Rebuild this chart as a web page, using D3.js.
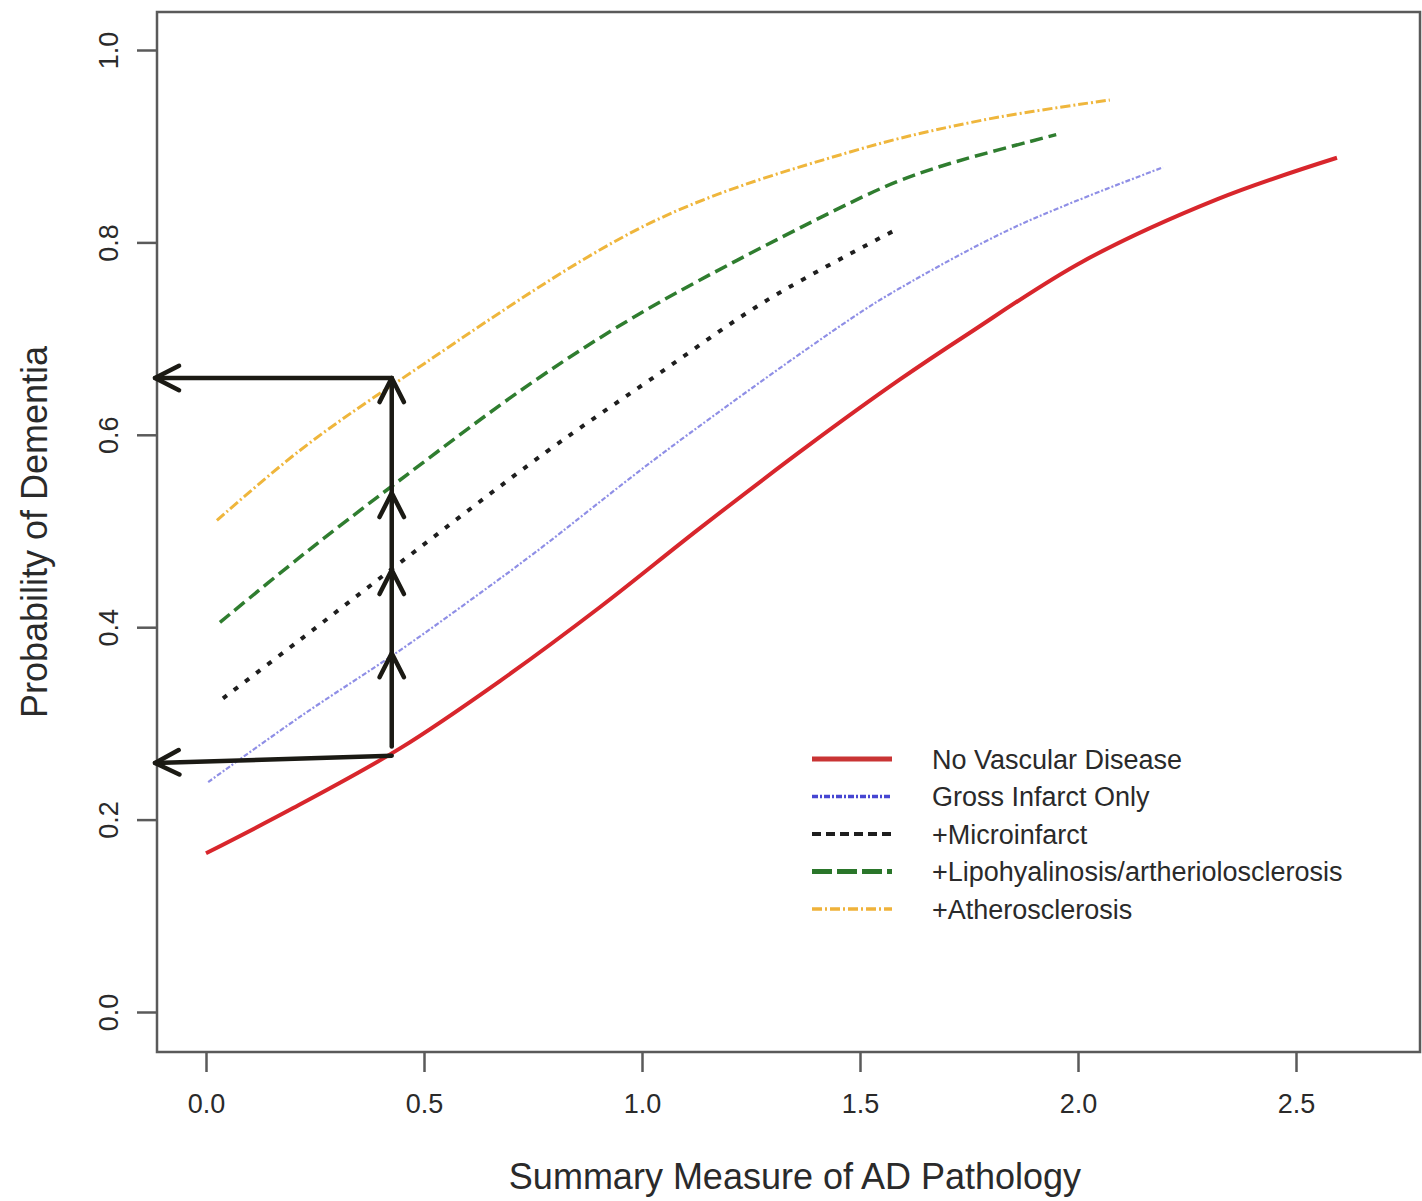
<!DOCTYPE html>
<html>
<head>
<meta charset="utf-8">
<script src="https://cdn.jsdelivr.net/npm/d3@7"></script>
<style>
  html, body { margin: 0; padding: 0; background: #fff; }
  svg { display: block; }
  text { font-family: "Liberation Sans", Arial, sans-serif; fill: #2a2a2a; }
</style>
</head>
<body>
<svg id="chart" width="1422" height="1201"></svg>
<script>
// ---------------- data ----------------
const seriesNames = ["No Vascular Disease", "Gross Infarct Only", "+Microinfarct",
  "+Lipohyalinosis/artheriolosclerosis", "+Atherosclerosis"];

const noVascX = [0, 0.2, 0.445, 0.674, 0.904, 1.133, 1.385, 1.59, 1.745, 2.01, 2.32, 2.594];
const noVascY = [0.165, 0.212, 0.274, 0.344, 0.421, 0.503, 0.590, 0.657, 0.704, 0.780, 0.845, 0.888];

const grossX = [0.005, 0.216, 0.445, 0.60, 0.75, 1.057, 1.477, 1.59, 1.86, 2.195];
const grossY = [0.239, 0.307, 0.376, 0.426, 0.476, 0.584, 0.720, 0.752, 0.817, 0.878];

const microX = [0.039, 0.216, 0.445, 0.78, 1.018, 1.287, 1.59];
const microY = [0.326, 0.387, 0.467, 0.582, 0.657, 0.740, 0.815];

const lipoX = [0.032, 0.216, 0.445, 0.75, 1.018, 1.477, 1.59, 1.706, 1.95];
const lipoY = [0.405, 0.473, 0.553, 0.655, 0.732, 0.841, 0.864, 0.882, 0.912];

const atheroX = [0.025, 0.216, 0.445, 1.018, 1.477, 1.78, 2.073];
const atheroY = [0.511, 0.584, 0.657, 0.820, 0.894, 0.927, 0.948];

const xTicks = [0.0, 0.5, 1.0, 1.5, 2.0, 2.5];
const yTicks = [0.0, 0.2, 0.4, 0.6, 0.8, 1.0];

// annotation arrows (data units)
const arrowX = 0.426;
const vertBottomY = 0.276;
const vertHeadsY = [0.373, 0.4595, 0.5395, 0.659];
const horizTop = { x0: 0.426, y0: 0.659, x1: -0.117, y1: 0.659 };
const horizBottom = { x0: 0.426, y0: 0.2664, x1: -0.117, y1: 0.2588 };

const xTitle = "Summary Measure of AD Pathology";
const yTitle = "Probability of Dementia";

// ---------------- styles ----------------
const styles = [
  { color: "#d8262c", width: 4, dash: null, legendColor: "#c93434", legendWidth: 5, legendDash: null },
  { color: "#8f8fe6", width: 2.2, dash: "5,2,2,2", legendColor: "#4646d2", legendWidth: 3.5, legendDash: "6,2,2,2" },
  { color: "#1e1e1e", width: 4, dash: "5,9", legendColor: "#1e1e1e", legendWidth: 4, legendDash: "9,5" },
  { color: "#2f7d2f", width: 3.5, dash: "13,6", legendColor: "#2a762a", legendWidth: 5, legendDash: "20,5" },
  { color: "#efb63c", width: 3, dash: "10,3,2,3", legendColor: "#efb23a", legendWidth: 3.5, legendDash: "10,3,2,3" }
];

// ---------------- scales ----------------
const svg = d3.select("#chart");
const x = d3.scaleLinear().domain([0, 2.5]).range([206, 1296]);
const y = d3.scaleLinear().domain([0, 1]).range([1012, 50]);

const box = { left: 157, right: 1420, top: 12, bottom: 1052 };
const axisColor = "#5a5a5a";

// plot box
svg.append("rect")
  .attr("x", box.left).attr("y", box.top)
  .attr("width", box.right - box.left).attr("height", box.bottom - box.top)
  .attr("fill", "none").attr("stroke", axisColor).attr("stroke-width", 2.5);

// x axis ticks
const gx = svg.append("g").attr("transform", `translate(0,${box.bottom})`)
  .call(d3.axisBottom(x).tickValues(xTicks).tickFormat(d3.format(".1f")).tickSize(20).tickPadding(22));
gx.select(".domain").remove();
gx.selectAll(".tick line").attr("stroke", axisColor).attr("stroke-width", 2.5);
gx.selectAll(".tick text").attr("font-size", 27).attr("fill", "#2a2a2a")
  .style("font-family", "'Liberation Sans', Arial, sans-serif");

// y axis ticks
const gy = svg.append("g").attr("transform", `translate(${box.left},0)`)
  .call(d3.axisLeft(y).tickValues(yTicks).tickFormat(d3.format(".1f")).tickSize(20).tickPadding(0));
gy.select(".domain").remove();
gy.selectAll(".tick line").attr("stroke", axisColor).attr("stroke-width", 2.5);
gy.selectAll(".tick text")
  .attr("font-size", 27).attr("fill", "#2a2a2a")
  .attr("text-anchor", "middle")
  .attr("x", null).attr("dy", null)
  .attr("transform", "translate(-39,0) rotate(-90)")
  .style("font-family", "'Liberation Sans', Arial, sans-serif");

// axis titles
svg.append("text").attr("x", 795).attr("y", 1189)
  .attr("text-anchor", "middle").attr("font-size", 36).text(xTitle);
svg.append("text")
  .attr("transform", `translate(47,${532}) rotate(-90)`)
  .attr("text-anchor", "middle").attr("font-size", 36).text(yTitle);

// curves
const seriesData = [
  d3.zip(noVascX, noVascY),
  d3.zip(grossX, grossY),
  d3.zip(microX, microY),
  d3.zip(lipoX, lipoY),
  d3.zip(atheroX, atheroY)
];
const line = d3.line().x(d => x(d[0])).y(d => y(d[1])).curve(d3.curveCatmullRom.alpha(0.5));

seriesData.forEach((pts, i) => {
  const s = styles[i];
  svg.append("path").datum(pts)
    .attr("d", line)
    .attr("fill", "none")
    .attr("stroke", s.color)
    .attr("stroke-width", s.width)
    .attr("stroke-dasharray", s.dash)
    .attr("stroke-linecap", "butt");
});

// legend
const legend = svg.append("g");
legend.append("rect").attr("x", 800).attr("y", 735).attr("width", 570).attr("height", 190).attr("fill", "#fff");
seriesNames.forEach((name, i) => {
  const s = styles[i];
  const cy = 759 + i * 37.5;
  legend.append("line")
    .attr("x1", 812).attr("x2", 892).attr("y1", cy).attr("y2", cy)
    .attr("stroke", s.legendColor).attr("stroke-width", s.legendWidth)
    .attr("stroke-dasharray", s.legendDash);
  legend.append("text").attr("x", 932).attr("y", cy + 9.5)
    .attr("font-size", 27).attr("fill", "#333").text(name);
});

// annotation arrows
const arrowColor = "#1b1a14";
const arrowW = 4.5;
const ann = svg.append("g").attr("stroke", arrowColor).attr("stroke-width", arrowW)
  .attr("fill", "none").attr("stroke-linecap", "round").attr("stroke-linejoin", "round");

function chevron(tipX, tipY, fromX, fromY) {
  const ang = Math.atan2(tipY - fromY, tipX - fromX);
  const len = 27, spread = 0.47;
  const a1 = ang + Math.PI - spread, a2 = ang + Math.PI + spread;
  return `M${tipX + len * Math.cos(a1)},${tipY + len * Math.sin(a1)}L${tipX},${tipY}L${tipX + len * Math.cos(a2)},${tipY + len * Math.sin(a2)}`;
}

// vertical line
const topHead = vertHeadsY[vertHeadsY.length - 1];
ann.append("line")
  .attr("x1", x(arrowX)).attr("x2", x(arrowX))
  .attr("y1", y(vertBottomY)).attr("y2", y(topHead));
vertHeadsY.forEach(v => {
  ann.append("path").attr("d", chevron(x(arrowX), y(v), x(arrowX), y(v) + 50));
});

[horizTop, horizBottom].forEach(h => {
  ann.append("line")
    .attr("x1", x(h.x0)).attr("y1", y(h.y0))
    .attr("x2", x(h.x1)).attr("y2", y(h.y1));
  ann.append("path").attr("d", chevron(x(h.x1), y(h.y1), x(h.x0), y(h.y0)));
});
</script>
</body>
</html>
